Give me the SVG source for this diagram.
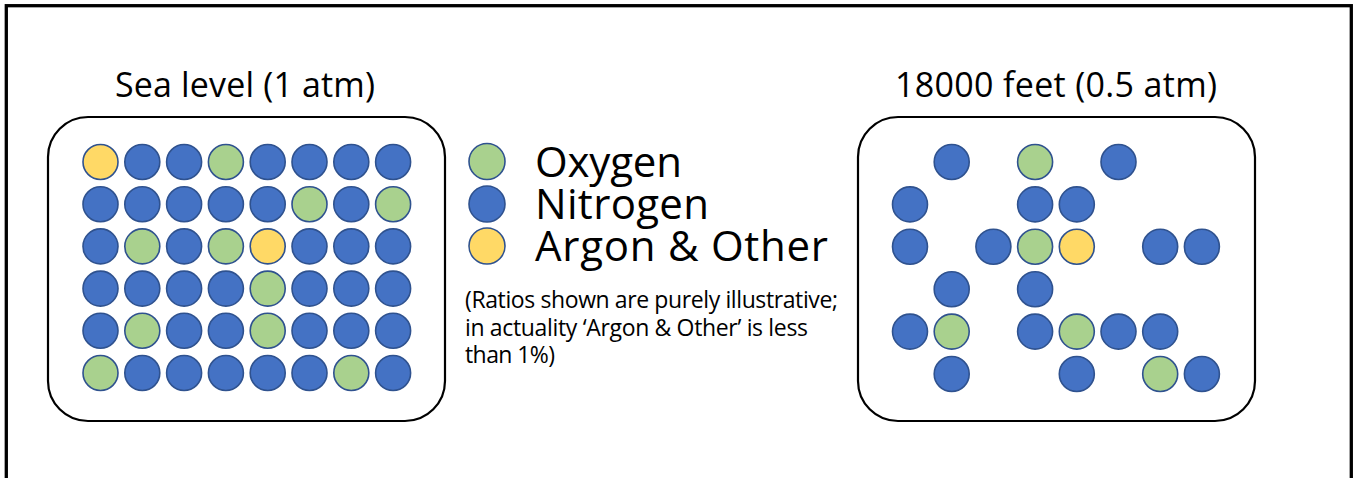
<svg xmlns="http://www.w3.org/2000/svg" width="1353" height="478" viewBox="0 0 1353 478">
<style>
.frame{fill:none;stroke:#000;stroke-width:3.3}
.box{fill:#fff;stroke:#000;stroke-width:2.2}
.n{fill:#4472C4;stroke:#2F528F;stroke-width:1.6}
.o{fill:#A9D18E;stroke:#2F528F;stroke-width:1.6}
.a{fill:#FFD966;stroke:#2F528F;stroke-width:1.6}
.t{font-family:"Open Sans","Noto Sans","Liberation Sans",sans-serif;fill:#000}
.title{font-size:34px}
.leg{font-size:42px}
.note{font-size:23px}
</style>
<rect x="0" y="0" width="1353" height="478" fill="#fff"/>
<rect class="frame" x="6.3" y="5.7" width="1345" height="490"/>

<g id="sea-level">
<text class="t title" x="115" y="97" textLength="260" lengthAdjust="spacing">Sea level (1 atm)</text>
<rect class="box" x="48" y="117" width="397" height="304" rx="40" ry="40"/>
<g transform="translate(100.5,162)">
<!-- row 1 -->
<circle class="a" cx="0" cy="0" r="17.5"/>
<circle class="n" cx="41.8" cy="0" r="17.5"/>
<circle class="n" cx="83.6" cy="0" r="17.5"/>
<circle class="o" cx="125.4" cy="0" r="17.5"/>
<circle class="n" cx="167.2" cy="0" r="17.5"/>
<circle class="n" cx="209" cy="0" r="17.5"/>
<circle class="n" cx="250.8" cy="0" r="17.5"/>
<circle class="n" cx="292.6" cy="0" r="17.5"/>
<!-- row 2 -->
<circle class="n" cx="0" cy="42.2" r="17.5"/>
<circle class="n" cx="41.8" cy="42.2" r="17.5"/>
<circle class="n" cx="83.6" cy="42.2" r="17.5"/>
<circle class="n" cx="125.4" cy="42.2" r="17.5"/>
<circle class="n" cx="167.2" cy="42.2" r="17.5"/>
<circle class="o" cx="209" cy="42.2" r="17.5"/>
<circle class="n" cx="250.8" cy="42.2" r="17.5"/>
<circle class="o" cx="292.6" cy="42.2" r="17.5"/>
<!-- row 3 -->
<circle class="n" cx="0" cy="84.4" r="17.5"/>
<circle class="o" cx="41.8" cy="84.4" r="17.5"/>
<circle class="n" cx="83.6" cy="84.4" r="17.5"/>
<circle class="o" cx="125.4" cy="84.4" r="17.5"/>
<circle class="a" cx="167.2" cy="84.4" r="17.5"/>
<circle class="n" cx="209" cy="84.4" r="17.5"/>
<circle class="n" cx="250.8" cy="84.4" r="17.5"/>
<circle class="n" cx="292.6" cy="84.4" r="17.5"/>
<!-- row 4 -->
<circle class="n" cx="0" cy="126.6" r="17.5"/>
<circle class="n" cx="41.8" cy="126.6" r="17.5"/>
<circle class="n" cx="83.6" cy="126.6" r="17.5"/>
<circle class="n" cx="125.4" cy="126.6" r="17.5"/>
<circle class="o" cx="167.2" cy="126.6" r="17.5"/>
<circle class="n" cx="209" cy="126.6" r="17.5"/>
<circle class="n" cx="250.8" cy="126.6" r="17.5"/>
<circle class="n" cx="292.6" cy="126.6" r="17.5"/>
<!-- row 5 -->
<circle class="n" cx="0" cy="168.8" r="17.5"/>
<circle class="o" cx="41.8" cy="168.8" r="17.5"/>
<circle class="n" cx="83.6" cy="168.8" r="17.5"/>
<circle class="n" cx="125.4" cy="168.8" r="17.5"/>
<circle class="o" cx="167.2" cy="168.8" r="17.5"/>
<circle class="n" cx="209" cy="168.8" r="17.5"/>
<circle class="n" cx="250.8" cy="168.8" r="17.5"/>
<circle class="n" cx="292.6" cy="168.8" r="17.5"/>
<!-- row 6 -->
<circle class="o" cx="0" cy="211" r="17.5"/>
<circle class="n" cx="41.8" cy="211" r="17.5"/>
<circle class="n" cx="83.6" cy="211" r="17.5"/>
<circle class="n" cx="125.4" cy="211" r="17.5"/>
<circle class="n" cx="167.2" cy="211" r="17.5"/>
<circle class="n" cx="209" cy="211" r="17.5"/>
<circle class="o" cx="250.8" cy="211" r="17.5"/>
<circle class="n" cx="292.6" cy="211" r="17.5"/>
</g>
</g>

<g id="legend">
<circle class="o" cx="487" cy="161.5" r="18"/>
<circle class="n" cx="487" cy="204" r="18"/>
<circle class="a" cx="487" cy="246" r="18"/>
<text class="t leg" x="535" y="177" textLength="147" lengthAdjust="spacing">Oxygen</text>
<text class="t leg" x="535" y="219" textLength="174" lengthAdjust="spacing">Nitrogen</text>
<text class="t leg" x="535" y="261" textLength="293" lengthAdjust="spacing">Argon &amp; Other</text>
<text class="t note" x="465" y="308" textLength="373" lengthAdjust="spacing">(Ratios shown are purely illustrative;</text>
<text class="t note" x="465" y="336" textLength="343" lengthAdjust="spacing">in actuality ‘Argon &amp; Other’ is less</text>
<text class="t note" x="465" y="363" textLength="90" lengthAdjust="spacing">than 1%)</text>
</g>

<g id="altitude">
<text class="t title" x="895" y="97" textLength="322" lengthAdjust="spacing">18000 feet (0.5 atm)</text>
<rect class="box" x="858" y="117" width="397" height="304" rx="40" ry="40"/>
<g transform="translate(910,162)">
<!-- row 1 -->
<circle class="n" cx="41.7" cy="0" r="17.5"/>
<circle class="o" cx="125.1" cy="0" r="17.5"/>
<circle class="n" cx="208.5" cy="0" r="17.5"/>
<!-- row 2 -->
<circle class="n" cx="0" cy="42.4" r="17.5"/>
<circle class="n" cx="125.1" cy="42.4" r="17.5"/>
<circle class="n" cx="166.8" cy="42.4" r="17.5"/>
<!-- row 3 -->
<circle class="n" cx="0" cy="84.8" r="17.5"/>
<circle class="n" cx="83.4" cy="84.8" r="17.5"/>
<circle class="o" cx="125.1" cy="84.8" r="17.5"/>
<circle class="a" cx="166.8" cy="84.8" r="17.5"/>
<circle class="n" cx="250.2" cy="84.8" r="17.5"/>
<circle class="n" cx="291.9" cy="84.8" r="17.5"/>
<!-- row 4 -->
<circle class="n" cx="41.7" cy="127.2" r="17.5"/>
<circle class="n" cx="125.1" cy="127.2" r="17.5"/>
<!-- row 5 -->
<circle class="n" cx="0" cy="169.6" r="17.5"/>
<circle class="o" cx="41.7" cy="169.6" r="17.5"/>
<circle class="n" cx="125.1" cy="169.6" r="17.5"/>
<circle class="o" cx="166.8" cy="169.6" r="17.5"/>
<circle class="n" cx="208.5" cy="169.6" r="17.5"/>
<circle class="n" cx="250.2" cy="169.6" r="17.5"/>
<!-- row 6 -->
<circle class="n" cx="41.7" cy="212" r="17.5"/>
<circle class="n" cx="166.8" cy="212" r="17.5"/>
<circle class="o" cx="250.2" cy="212" r="17.5"/>
<circle class="n" cx="291.9" cy="212" r="17.5"/>
</g>
</g>
</svg>
